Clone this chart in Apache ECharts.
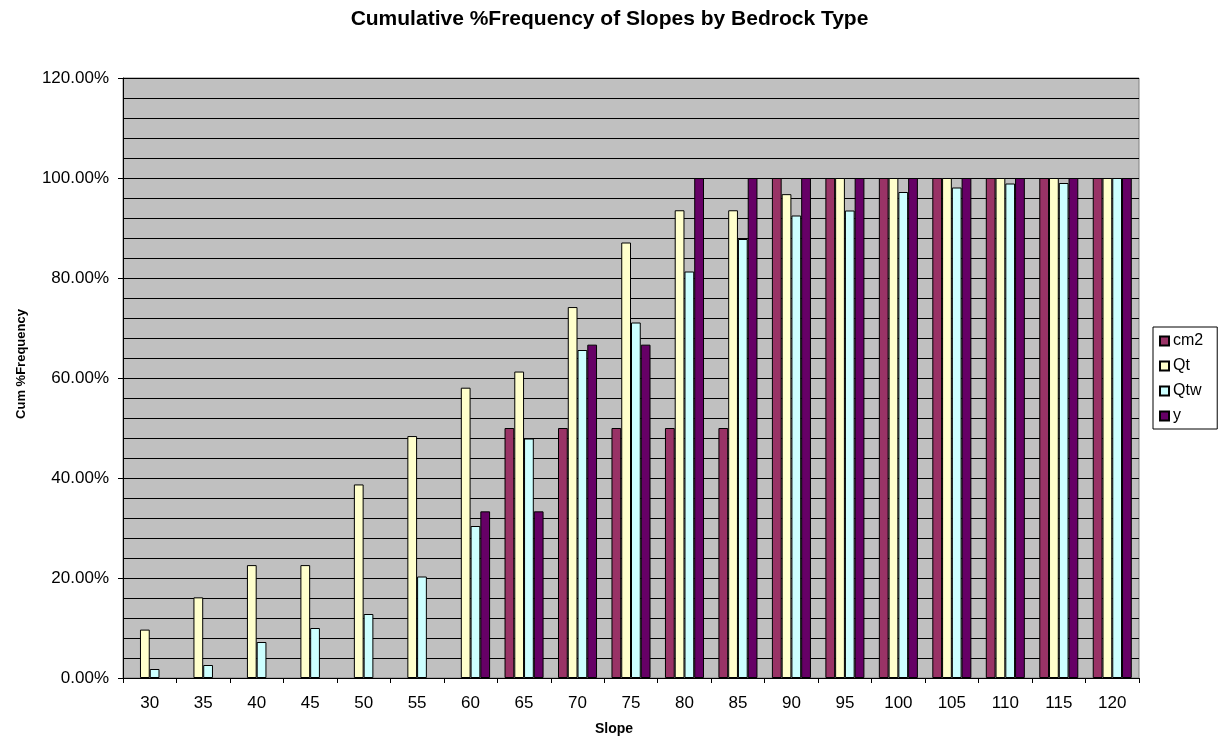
<!DOCTYPE html>
<html>
<head>
<meta charset="utf-8">
<script src="https://cdn.jsdelivr.net/npm/echarts@6/dist/echarts.min.js"></script>
<style>
  html, body { margin: 0; padding: 0; background: #ffffff; }
  #chart { width: 1219px; height: 743px; }
</style>
</head>
<body>
<div id="chart"></div>
<script>
// Slope classes (degrees) and cumulative percent frequency per bedrock type
var slopes = ['30','35','40','45','50','55','60','65','70','75','80','85','90','95','100','105','110','115','120'];
var cm2 = [0, 0, 0, 0, 0, 0, 0, 50, 50, 50, 50, 50, 100, 100, 100, 100, 100, 100, 100];
var Qt  = [9.68, 16.13, 22.58, 22.58, 38.71, 48.39, 58.06, 61.29, 74.19, 87.10, 93.55, 93.55, 96.77, 100, 100, 100, 100, 100, 100];
var Qtw = [1.8, 2.6, 7.2, 10.0, 12.8, 20.3, 30.4, 47.9, 65.6, 71.1, 81.3, 87.8, 92.5, 93.5, 97.2, 98.1, 98.9, 99.0, 100];
var y   = [0, 0, 0, 0, 0, 0, 33.33, 33.33, 66.67, 66.67, 100, 100, 100, 100, 100, 100, 100, 100, 100];

var seriesNames = ['cm2', 'Qt', 'Qtw', 'y'];
var seriesData = [cm2, Qt, Qtw, y];
var seriesColors = ['#993366', '#FFFFCC', '#CCFFFF', '#660066'];

var FONT = '"Liberation Sans", Arial, sans-serif';

var chart = echarts.init(document.getElementById('chart'), null, { renderer: 'canvas' });

// zero-height bars get no outline, so empty classes stay blank
function toItems(values) {
  return values.map(function (v) {
    return v === 0 ? { value: v, itemStyle: { borderWidth: 0 } } : v;
  });
}

var series = seriesNames.map(function (name, i) {
  return {
    name: name,
    type: 'bar',
    data: toItems(seriesData[i]),
    barGap: '0%',
    barCategoryGap: '27%',
    itemStyle: { color: seriesColors[i], borderColor: '#000000', borderWidth: 1 },
    emphasis: { disabled: true }
  };
});

chart.setOption({
  animation: false,
  backgroundColor: '#ffffff',
  title: {
    text: 'Cumulative %Frequency of Slopes by Bedrock Type',
    left: 'center',
    top: 4,
    textStyle: { fontFamily: FONT, fontSize: 21, fontWeight: 'bold', color: '#000000' }
  },
  legend: {
    orient: 'vertical',
    left: 1153,
    top: 327,
    padding: [6, 14, 5, 6],
    itemGap: 9,
    itemWidth: 9,
    itemHeight: 9,
    icon: 'rect',
    borderColor: '#000000',
    borderWidth: 1,
    backgroundColor: '#ffffff',
    textStyle: { fontFamily: FONT, fontSize: 16, color: '#000000', padding: [0, 0, 0, -1] },
    data: seriesNames
  },
  grid: {
    left: 123,
    right: 80,
    top: 78,
    bottom: 65,
    outerBoundsMode: 'none',
    containLabel: false,
    show: true,
    backgroundColor: '#C0C0C0',
    borderColor: '#808080',
    borderWidth: 1
  },
  xAxis: {
    type: 'category',
    data: slopes,
    name: 'Slope',
    nameLocation: 'middle',
    nameGap: 44,
    nameTextStyle: { fontFamily: FONT, fontSize: 14, fontWeight: 'bold', color: '#000000', padding: [0, 34, 0, 0] },
    axisLine: { lineStyle: { color: '#000000', width: 1 } },
    axisTick: { show: true, length: 5, lineStyle: { color: '#000000' } },
    axisLabel: { fontFamily: FONT, fontSize: 17, color: '#000000', margin: 17 }
  },
  yAxis: {
    type: 'value',
    min: 0,
    max: 120,
    interval: 20,
    name: 'Cum %Frequency',
    nameLocation: 'middle',
    nameGap: 95,
    nameTextStyle: { fontFamily: FONT, fontSize: 13, fontWeight: 'bold', color: '#000000', padding: [0, 0, 0, 28] },
    axisLine: { show: true, lineStyle: { color: '#000000', width: 1 } },
    axisTick: { show: true, length: 5, lineStyle: { color: '#000000' } },
    axisLabel: {
      fontFamily: FONT, fontSize: 17, color: '#000000', margin: 14,
      formatter: function (v) { return v.toFixed(2) + '%'; }
    },
    splitLine: { show: true, lineStyle: { color: '#000000', width: 1 } },
    minorTick: { show: false, splitNumber: 5 },
    minorSplitLine: { show: true, lineStyle: { color: '#000000', width: 1 } }
  },
  series: series
});
</script>
</body>
</html>
